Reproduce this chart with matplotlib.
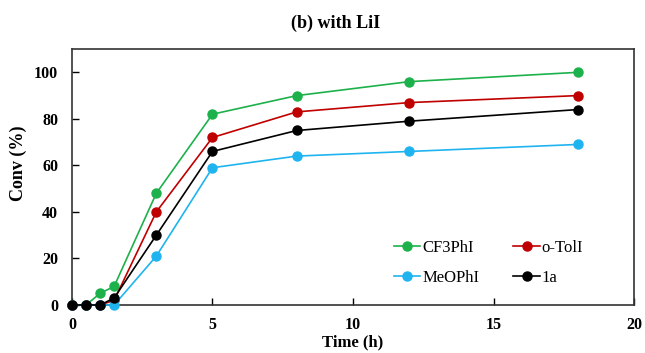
import matplotlib.pyplot as plt

plt.rcParams['font.family'] = ['Liberation Serif', 'DejaVu Serif']

time_h = [0, 0.5, 1, 1.5, 3, 5, 8, 12, 18]
cf3phi = [0, 0, 5, 8, 48, 82, 90, 96, 100]
o_toli = [0, 0, 0, 2, 40, 72, 83, 87, 90]
meophi = [0, 0, 0, 0, 21, 59, 64, 66, 69]
one_a = [0, 0, 0, 3, 30, 66, 75, 79, 84]

series = [
    ("CF3PhI", cf3phi, "#1db14b"),
    ("o-TolI", o_toli, "#c00000"),
    ("MeOPhI", meophi, "#1fb4ef"),
    ("1a", one_a, "black"),
]

fig = plt.figure(figsize=(6.45, 3.53), dpi=100)
ax = fig.add_axes([0.1116, 0.136, 0.8714, 0.725])

lines = {}
for name, vals, col in series:
    ln, = ax.plot(time_h, vals, color=col, lw=1.2, marker='o', markersize=6.5,
                  label=name, clip_on=False, zorder=3)
    lines[name] = ln

ax.set_xlim(0, 20)
ax.set_ylim(0, 110)
ax.set_xticks([0, 5, 10, 15, 20])
ax.set_yticks([0, 20, 40, 60, 80, 100])
ax.tick_params(direction='in', length=5, width=1, labelsize=11.5)
ax.tick_params(axis='x', pad=9)
ax.tick_params(axis='y', pad=10)
for lab in ax.get_xticklabels() + ax.get_yticklabels():
    lab.set_fontweight('bold')
for sp in ax.spines.values():
    sp.set_linewidth(1.2)
    sp.set_color('#333333')

ax.set_xlabel("Time (h)", fontsize=12, fontweight='bold', va='center')
ax.xaxis.set_label_coords(0.5, -0.148)
ax.set_ylabel("Conv (%)", fontsize=13, fontweight='bold')
ax.yaxis.set_label_coords(-0.08, 0.555)
fig.text(0.52, 0.935, "(b) with LiI", ha='center', va='center', fontsize=13, fontweight='bold')

order = ["CF3PhI", "MeOPhI", "o-TolI", "1a"]
ax.legend([lines[n] for n in order], order, ncol=2, frameon=False, loc='center',
          bbox_to_anchor=(0.741, 0.165), fontsize=12, handlelength=1.6,
          columnspacing=2.05, handletextpad=0.1, labelspacing=0.85)

fig.savefig("out.png", dpi=100)
